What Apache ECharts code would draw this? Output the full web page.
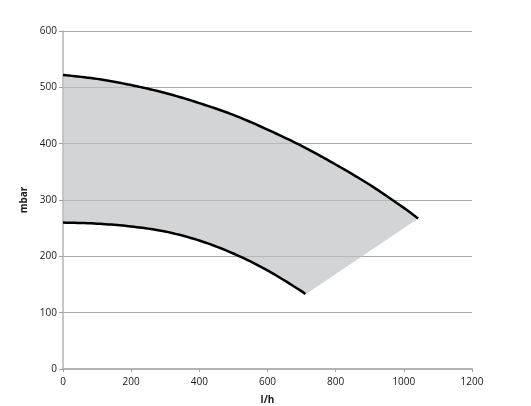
<!DOCTYPE html>
<html>
<head>
<meta charset="utf-8">
<script src="https://cdn.jsdelivr.net/npm/echarts@6/dist/echarts.min.js"></script>
<style>html,body{margin:0;padding:0;background:#fff;}#c{width:531px;height:406px;}</style>
</head>
<body>
<div id="c"></div>
<script>
// Upper curve (l/h, mbar)
const upperX = [0, 100, 200, 300, 400, 500, 600, 700, 800, 900, 1000, 1042];
const upperY = [522, 515, 504, 490, 472, 451, 425, 396, 363, 327, 286, 267];
// Lower curve (l/h, mbar)
const lowerX = [0, 100, 200, 300, 400, 500, 600, 700, 710];
const lowerY = [260, 258, 253, 244, 228, 205, 175, 138, 132];
const xTicks = [0, 200, 400, 600, 800, 1000, 1200];
const yTicks = [0, 100, 200, 300, 400, 500, 600];

const upper = upperX.map((x, i) => [x, upperY[i]]);
const lower = lowerX.map((x, i) => [x, lowerY[i]]);

// Catmull-Rom sampling between the read points (for a smooth line and the fill)
function sampleSmooth(pts, n) {
  const out = [];
  for (let i = 0; i < pts.length - 1; i++) {
    const p0 = pts[Math.max(i - 1, 0)], p1 = pts[i], p2 = pts[i + 1], p3 = pts[Math.min(i + 2, pts.length - 1)];
    for (let k = 0; k < n; k++) {
      const t = k / n, t2 = t * t, t3 = t2 * t;
      const f = (a, b, c, d) => 0.5 * ((2 * b) + (-a + c) * t + (2 * a - 5 * b + 4 * c - d) * t2 + (-a + 3 * b - 3 * c + d) * t3);
      out.push([f(p0[0], p1[0], p2[0], p3[0]), f(p0[1], p1[1], p2[1], p3[1])]);
    }
  }
  out.push(pts[pts.length - 1]);
  return out;
}
const upperS = sampleSmooth(upper, 12);
const lowerS = sampleSmooth(lower, 12);
const polyData = upperS.concat(lowerS.slice().reverse());

const chart = echarts.init(document.getElementById('c'));
const font = 'Open Sans';
chart.setOption({
  animation: false,
  grid: { left: 63, right: 59, top: 31, bottom: 37, containLabel: false, outerBoundsMode: 'none' },
  xAxis: {
    type: 'value', min: 0, max: 1200, interval: 200,
    name: 'l/h', nameLocation: 'middle', nameGap: 26,
    nameTextStyle: { fontFamily: font, fontSize: 10, fontWeight: 'bold', color: '#1a1a1a' },
    axisLine: { lineStyle: { color: '#b4b4b4', width: 2 } },
    axisTick: { show: true, length: 3, lineStyle: { color: '#a0a0a0' } },
    axisLabel: { fontFamily: font, fontSize: 10, color: '#1a1a1a', margin: 8,
      formatter: v => xTicks.includes(v) ? String(v) : '' },
    splitLine: { show: false }
  },
  yAxis: {
    type: 'value', min: 0, max: 600, interval: 100,
    name: 'mbar', nameLocation: 'middle', nameGap: 30,
    nameTextStyle: { fontFamily: font, fontSize: 10, fontWeight: 'bold', color: '#1a1a1a' },
    axisLine: { show: true, lineStyle: { color: '#b4b4b4', width: 1.5 } },
    axisTick: { show: true, length: 4, lineStyle: { color: '#a0a0a0' } },
    axisLabel: { fontFamily: font, fontSize: 10, color: '#1a1a1a', margin: 6,
      formatter: v => yTicks.includes(v) ? String(v) : '' },
    splitLine: { show: true, lineStyle: { color: '#a8a8a8', width: 1 } }
  },
  series: [
    {
      type: 'custom',
      data: [0],
      z: 1,
      renderItem: function (params, api) {
        const pts = polyData.map(p => api.coord(p));
        return { type: 'polygon', shape: { points: pts }, style: { fill: 'rgba(190,191,194,0.68)' } };
      }
    },
    {
      type: 'line', data: upperS, symbol: 'none', z: 3,
      lineStyle: { color: '#000', width: 2.5 }
    },
    {
      type: 'line', data: lowerS, symbol: 'none', z: 3,
      lineStyle: { color: '#000', width: 2.5 }
    }
  ]
});
</script>
</body>
</html>
